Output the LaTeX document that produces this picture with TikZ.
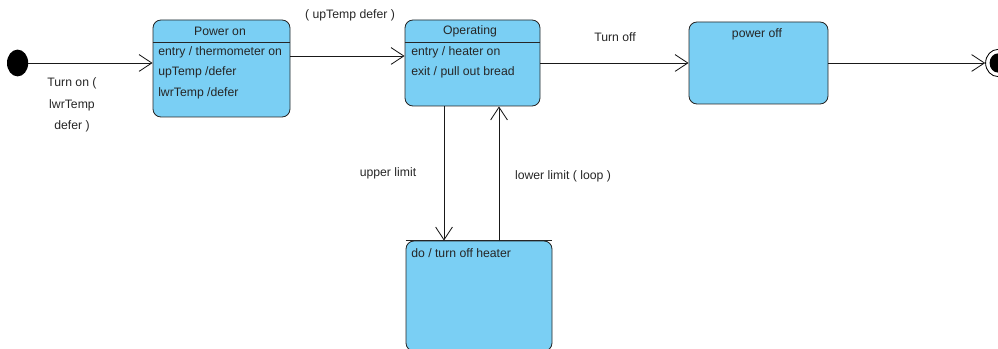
\documentclass[tikz,border=0pt]{standalone}
\usepackage{fontspec}
\setmainfont{Liberation Sans}
\usepackage{tikz}
\usetikzlibrary{arrows.meta,positioning,calc,shapes.geometric}

\definecolor{stateblue}{RGB}{122,207,244}

\begin{document}
\begin{tikzpicture}[
    font=\fontsize{8.7}{10}\selectfont,
    state/.style={rectangle, draw=black!85, line width=0.6pt, rounded corners=0.2cm, fill=stateblue, inner sep=0pt},
    title/.style={inner sep=0pt, text=black!85},
    act/.style={inner sep=0pt, anchor=west, text=black!85},
    lbl/.style={inner sep=0pt, align=center, text=black!85, font=\fontsize{8.7}{15.2}\selectfont},
    arrow/.style={-{Straight Barb[length=3.2mm, width=4.2mm]}, line width=0.6pt, draw=black!90}
]
    \useasboundingbox (0,0) rectangle (24.95,-8.725);
    \clip (0,0) rectangle (24.95,-8.725);

    % Pseudo states
    \node[ellipse, fill=black, minimum width=0.53cm, minimum height=0.67cm, inner sep=0pt] (init) at (0.44,-1.575) {};
    \node[ellipse, draw=black, line width=0.6pt, fill=white, minimum width=0.62cm, minimum height=0.68cm, inner sep=0pt] (final) at (24.95,-1.575) {};
    \node[ellipse, fill=black, minimum width=0.42cm, minimum height=0.48cm, inner sep=0pt] (finaldot) at (final.center) {};

    % Power on
    \node[state, minimum width=3.425cm, minimum height=2.425cm] (pwron) at (5.5375,-1.7125) {};
    \draw[line width=0.6pt, black!85] (pwron.west |- 0,-1.05) -- (pwron.east |- 0,-1.05);
    \node[title] (pwronname) at (5.5,-0.775) {Power on};
    \node[act] (pwron1) at (3.95,-1.3) {entry / thermometer on};
    \node[act] (pwron2) at (3.95,-1.8) {upTemp /defer};
    \node[act] (pwron3) at (3.95,-2.325) {lwrTemp /defer};

    % Operating
    \node[state, minimum width=3.375cm, minimum height=2.15cm] (oper) at (11.8125,-1.575) {};
    \draw[line width=0.6pt, black!85] (oper.west |- 0,-1.05) -- (oper.east |- 0,-1.05);
    \node[title] (opername) at (11.75,-0.775) {Operating};
    \node[act] (oper1) at (10.275,-1.3) {entry / heater on};
    \node[act] (oper2) at (10.275,-1.8) {exit / pull out bread};

    % Power off
    \node[state, minimum width=3.475cm, minimum height=2.05cm] (pwroff) at (18.9625,-1.575) {};
    \node[title] (pwroffname) at (18.925,-0.85) {power off};

    % Heater off
    \node[state, minimum width=3.65cm, minimum height=2.75cm] (heat) at (11.975,-7.4) {};
    \draw[line width=0.6pt, black!85] (heat.north west) -- (heat.north east);
    \node[act] (heat1) at (10.275,-6.325) {do / turn off heater};

    % Transitions
    \coordinate (upline) at (0,-1.4);
    \coordinate (down) at (11.1,0);
    \coordinate (up) at (12.475,0);
    \draw[arrow] (init.east) -- (init.east -| pwron.west);
    \draw[arrow] (pwron.east |- upline) -- (oper.west |- upline);
    \draw[arrow] (oper.east) -- (pwroff.west);
    \draw[arrow] (pwroff.east) -- (pwroff.east -| final.west);
    \draw[arrow] (down |- oper.south) -- (down |- heat.north);
    \draw[arrow] (up |- heat.north) -- (up |- oper.south);

    % Labels
    \node[lbl] (turnon) at (1.8,-2.625) {Turn on (\\lwrTemp\\defer )};
    \node[lbl] (defer) at (8.75,-0.375) {( upTemp defer )};
    \node[lbl] (turnoff) at (15.375,-0.925) {Turn off};
    \node[lbl] (upper) at (9.7,-4.325) {upper limit};
    \node[lbl] (lower) at (14.075,-4.4) {lower limit ( loop )};

\end{tikzpicture}
\end{document}
